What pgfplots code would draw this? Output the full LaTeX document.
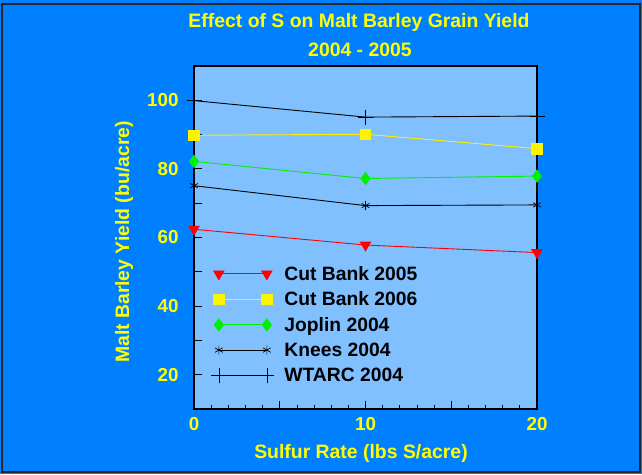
\documentclass[border=0pt]{standalone}
\usepackage{pgfplots}
\pgfplotsset{compat=1.18}
\usepackage{fontspec}
\setmainfont{Liberation Sans}
\definecolor{bgblue}{RGB}{0,128,255}
\definecolor{plotblue}{RGB}{128,192,255}
\definecolor{ttlyellow}{RGB}{255,255,0}
\definecolor{mygreen}{RGB}{0,240,0}
\begin{document}
\begin{tikzpicture}
\fill[bgblue] (0pt,0pt) rectangle (642pt,474pt);
\draw[black!85, line width=2.5pt] (2pt,2pt) rectangle (640pt,470pt);
\useasboundingbox (0pt,0pt) rectangle (642pt,474pt);
\begin{axis}[
  at={(194pt,65pt)}, anchor=south west,
  width=343pt, height=343pt, scale only axis,
  xmin=0, xmax=20, ymin=10, ymax=110,
  axis background/.style={fill=plotblue},
  axis line style={black, line width=1.3pt},
  tick style={black, line width=0.8pt},
  tick align=inside,
  xtick pos=bottom, ytick pos=left,
  xtick={0,5,10,15,20}, xticklabels={0,,10,,20},
  minor x tick num=4,
  ytick={10,20,...,110}, yticklabels={,20,,40,,60,,80,,100,},
  major tick length=8pt, minor tick length=4pt,
  /pgf/number format/assume math mode=true,
  tick label style={font=\fontsize{18.8}{20}\selectfont\bfseries, text=ttlyellow},
  yticklabel style={xshift=-12pt},
  xticklabel style={yshift=-5pt},
  legend style={at={(0.05,0.42)}, anchor=north west, draw=none, fill=none,
    font=\fontsize{19.3}{21}\selectfont\bfseries, row sep=8pt, column sep=9pt, inner sep=0pt,
    nodes={inner sep=1pt}},
  legend cell align=left,
  legend image code/.code={\draw[#1] plot coordinates {(0pt,0pt) (48pt,0pt)};},
]
\addplot[red, line width=0.9pt, mark=triangle*, mark size=5.8pt, mark options={rotate=180, fill=red, draw=red}]
  coordinates {(0,62.4) (10,57.8) (20,55.6)};
\addlegendentry{Cut Bank 2005}
\addplot[yellow, line width=0.9pt, mark=square*, mark size=5.3pt, mark options={fill=yellow, draw=yellow}]
  coordinates {(0,89.8) (10,90.1) (20,85.9)};
\addlegendentry{Cut Bank 2006}
\addplot[mygreen, line width=0.9pt, mark=diamond*, mark size=6pt, mark options={fill=mygreen, draw=mygreen}]
  coordinates {(0,82.2) (10,77.2) (20,77.9)};
\addlegendentry{Joplin 2004}
\addplot[black, line width=0.9pt, mark=asterisk, mark size=4.5pt, mark options={line width=0.7pt}]
  coordinates {(0,75.1) (10,69.3) (20,69.5)};
\addlegendentry{Knees 2004}
\addplot[black, line width=0.9pt, mark=+, mark size=7.5pt, mark options={line width=0.7pt}]
  coordinates {(0,99.9) (10,95.1) (20,95.4)};
\addlegendentry{WTARC 2004}
\end{axis}
\node[text=ttlyellow, font=\fontsize{19.4}{21}\selectfont\bfseries] at (359pt,452pt) {Effect of S on Malt Barley Grain Yield};
\node[text=ttlyellow, font=\fontsize{19.4}{21}\selectfont\bfseries] at (360pt,424pt) {2004 - 2005};
\node[text=ttlyellow, font=\fontsize{19.4}{21}\selectfont\bfseries] at (361pt,21pt) {Sulfur Rate (lbs S/acre)};
\node[text=ttlyellow, font=\fontsize{19.4}{21}\selectfont\bfseries, rotate=90] at (124pt,232pt) {Malt Barley Yield (bu/acre)};
\end{tikzpicture}
\end{document}
